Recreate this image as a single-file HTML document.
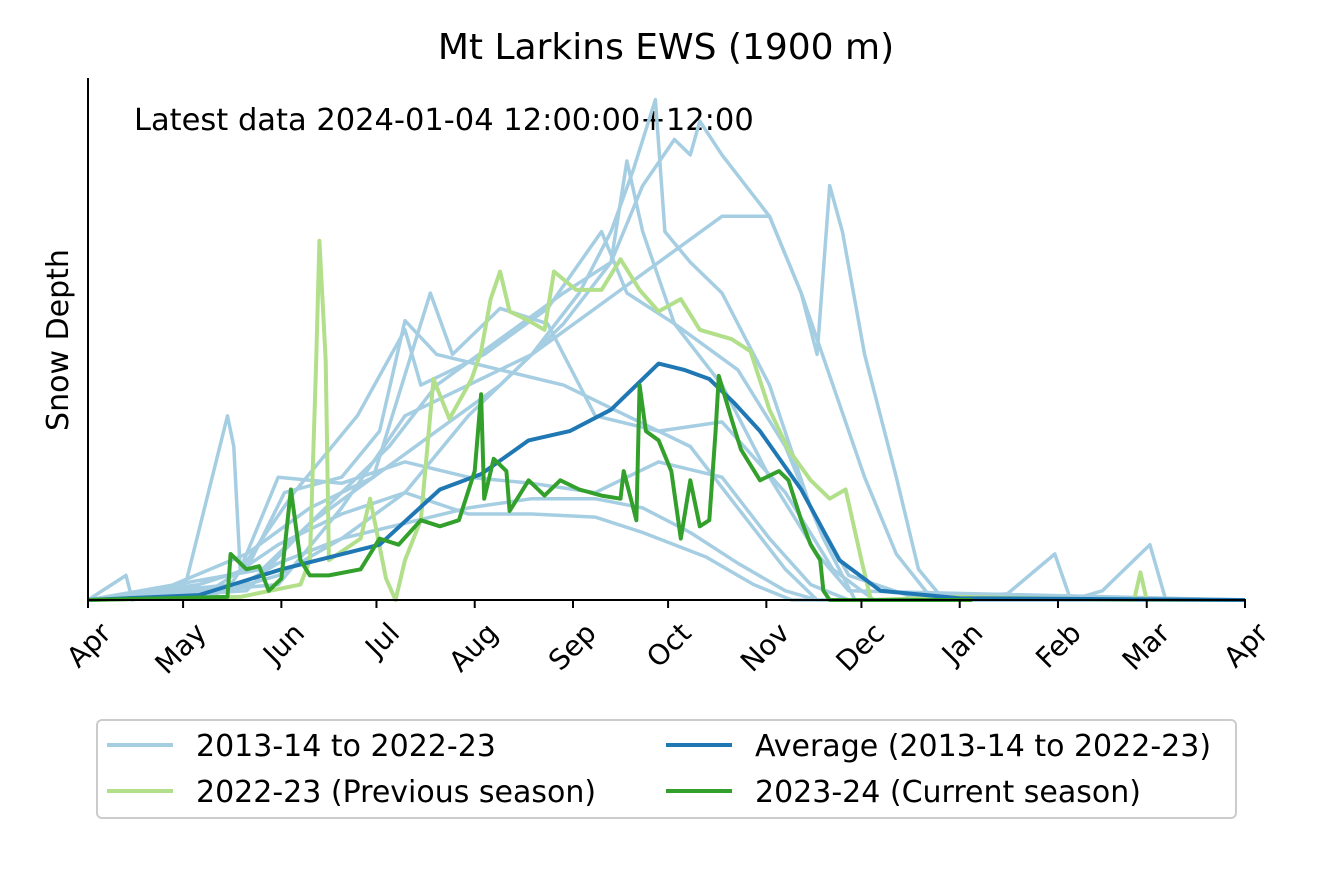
<!DOCTYPE html>
<html><head><meta charset="utf-8"><style>
body{margin:0;background:#fff;}
svg{display:block;font-family:"DejaVu Sans","Liberation Sans",sans-serif;}
</style></head><body>
<svg id="chart" width="1333" height="888" viewBox="0 0 1333 888">
<text x="666" y="59" text-anchor="middle" font-size="36">Mt Larkins EWS (1900 m)</text>
<text x="134" y="130" font-size="30.5">Latest data 2024-01-04 12:00:00+12:00</text>
<text transform="translate(68,340) rotate(-90)" text-anchor="middle" font-size="30">Snow Depth</text>
<g id="lines"></g>
<line x1="88" y1="78" x2="88" y2="600" stroke="#000" stroke-width="2"/>
<line x1="87" y1="600" x2="1246" y2="600" stroke="#000" stroke-width="2"/>
<g id="ticks"></g>
<g>
<rect x="97" y="720" width="1139" height="98" rx="5" fill="#fff" stroke="#ccc" stroke-width="2"/>
<line x1="107" y1="745" x2="173" y2="745" stroke="#a6cee3" stroke-width="4"/>
<text x="196" y="756" font-size="30">2013-14 to 2022-23</text>
<line x1="107" y1="791" x2="173" y2="791" stroke="#b2df8a" stroke-width="4"/>
<text x="196" y="802" font-size="30">2022-23 (Previous season)</text>
<line x1="666" y1="745" x2="732" y2="745" stroke="#1f78b4" stroke-width="4"/>
<text x="755" y="756" font-size="30">Average (2013-14 to 2022-23)</text>
<line x1="666" y1="791" x2="732" y2="791" stroke="#33a02c" stroke-width="4"/>
<text x="755" y="802" font-size="30">2023-24 (Current season)</text>
</g>
</svg>
<script>
const monthLabels=["Apr","May","Jun","Jul","Aug","Sep","Oct","Nov","Dec","Jan","Feb","Mar","Apr"];
const monthDays=[0,30,61,91,122,153,183,214,244,275,306,334,365];
const hist1=[[0,0],[40,2],[60,8],[80,20],[100,35],[120,60],[140,80],[155,100],[165,120],[172,140],[179,163],[182,120],[190,110],[200,100],[215,70],[228,30],[240,8],[260,1],[365,0]];
const hist2=[[0,0],[50,3],[70,25],[90,40],[110,55],[130,70],[150,90],[165,110],[175,135],[185,150],[190,145],[193,156],[200,145],[215,125],[225,100],[235,70],[245,40],[255,15],[265,2],[365,0]];
const hist3=[[0,0],[60,5],[80,30],[100,60],[120,70],[140,80],[160,95],[180,110],[200,125],[215,125],[225,100],[230,80],[234,135],[238,120],[245,80],[255,40],[262,10],[270,0],[365,0]];
const hist4=[[0,0],[55,10],[75,30],[95,50],[110,70],[130,85],[150,100],[165,110],[170,143],[175,120],[185,90],[200,70],[215,40],[230,15],[240,3],[365,0]];
const hist5=[[0,0],[45,5],[65,35],[85,60],[100,88],[105,70],[125,80],[145,95],[162,120],[170,100],[185,90],[205,75],[220,50],[232,20],[242,0],[365,0]];
const hist6=[[0,0],[35,5],[50,10],[62,35],[80,40],[92,55],[100,91],[110,80],[130,75],[150,70],[170,60],[190,50],[205,30],[220,10],[230,0],[365,0]];
const hist7=[[0,0],[45,3],[60,12],[80,20],[100,25],[120,30],[140,33],[160,33],[175,30],[190,22],[205,12],[220,3],[230,0],[365,0]];
const hist8=[[0,0],[40,4],[60,18],[80,28],[100,35],[120,28],[140,28],[160,27],[175,22],[195,14],[210,5],[222,0],[365,0]];
const hist9=[[0,0],[30,2],[44,60],[46,50],[48,10],[60,40],[80,38],[100,45],[120,40],[140,38],[160,35],[180,45],[200,40],[215,20],[228,5],[240,0],[365,0]];
const hist10=[[0,0],[12,8],[14,0],[20,2],[50,15],[70,30],[90,40],[108,100],[115,80],[130,95],[145,90],[160,60],[180,55],[200,58],[220,35],[235,10],[248,0],[290,2],[305,15],[310,0],[320,3],[335,18],[340,0],[365,0]];
const previous=[[0,0],[48,1],[67,5],[70,13],[72,78],[73,117],[75,78],[76,13],[86,20],[89,33],[94,7],[97,0],[100,13],[105,26],[109,72],[114,59],[121,72],[124,81],[127,98],[130,107],[133,94],[139,91],[144,88],[147,107],[154,101],[162,101],[168,111],[174,101],[180,94],[187,98],[193,88],[203,85],[209,81],[215,62],[221,49],[228,39],[234,33],[239,36],[244,13],[247,0],[275,1],[330,0],[332,9],[334,0],[365,0]];
const average=[[0,0],[35,1.6],[61,10],[92,18],[111,36],[124,41],[139,52],[152,55],[165,62],[173,70],[180,77],[188,75],[196,72],[204,64],[212,55],[225,36],[237,13],[250,3],[275,0.6],[365,0]];
const current=[[0,0],[44,1],[45,15],[50,10],[54,11],[57,3],[61,7],[64,36],[67,13],[70,8],[76,8],[86,10],[92,20],[98,18],[105,26],[111,24],[117,26],[122,42],[124,67],[125,33],[128,46],[132,42],[133,29],[139,39],[144,34],[149,39],[155,36],[162,34],[168,33],[169,42],[173,26],[174,70],[176,55],[180,52],[184,42],[187,20],[190,39],[193,24],[196,26],[198,55],[199,73],[203,59],[206,49],[212,39],[218,42],[221,39],[225,26],[228,18],[231,13],[232,3],[234,0],[279,0]];
const x0=88,x1=1245,y0=600,pxPerUnit=3.07;
const xs=d=>x0+(x1-x0)*d/365;
const ys=v=>y0-v*pxPerUnit;
const NS="http://www.w3.org/2000/svg";
const g=document.getElementById('lines');
function draw(data,color,w,name){
  const p=document.createElementNS(NS,'path');
  p.setAttribute('d',data.map((pt,i)=>(i?'L':'M')+xs(pt[0]).toFixed(1)+','+ys(pt[1]).toFixed(1)).join(''));
  p.setAttribute('fill','none');p.setAttribute('stroke',color);p.setAttribute('stroke-width',w);
  p.setAttribute('stroke-linejoin','round');
  
  
  g.appendChild(p);
}
[hist1,hist2,hist3,hist4,hist5,hist6,hist7,hist8,hist9,hist10].forEach((h,i)=>draw(h,'#a6cee3',3.5,'historic-season-line-'+(i+1)));
draw(previous,'#b2df8a',4,'previous-season-line');
draw(average,'#1f78b4',4,'average-line');
draw(current,'#33a02c',4,'current-season-line');
const t=document.getElementById('ticks');
monthDays.forEach((d,i)=>{
  const x=xs(d);
  const l=document.createElementNS(NS,'line');
  l.setAttribute('x1',x);l.setAttribute('x2',x);l.setAttribute('y1',600);l.setAttribute('y2',608);
  l.setAttribute('stroke','#000');l.setAttribute('stroke-width',2);
  
  
  t.appendChild(l);
  const tx=document.createElementNS(NS,'text');
  tx.setAttribute('transform',`translate(${x+10},${620}) rotate(-45)`);
  tx.setAttribute('text-anchor','end');tx.setAttribute('font-size','28');
  tx.setAttribute('dominant-baseline','hanging');
  tx.textContent=monthLabels[i];
  
  
  t.appendChild(tx);
});
</script>
</body></html>
